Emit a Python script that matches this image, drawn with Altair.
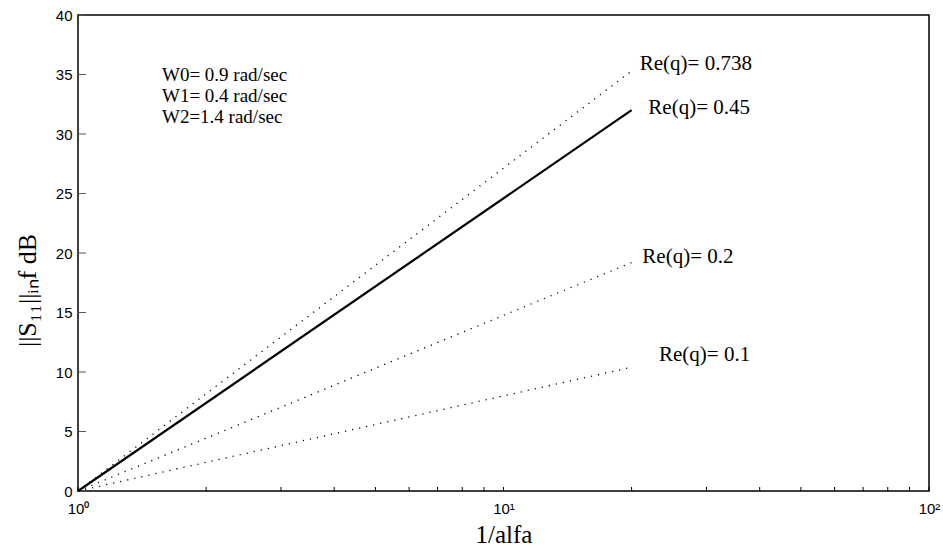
import altair as alt
import pandas as pd

# Re(q) curves: each runs from 1/alfa = 1 (0 dB) to 1/alfa = 20
re_q = ["0.738", "0.45", "0.2", "0.1"]
x_start = [1, 1, 1, 1]
x_end = [20, 20, 20, 20]
y_start = [0, 0, 0, 0]
y_end = [35.3, 32.0, 19.2, 10.4]
solid = [False, True, False, False]

# curve labels (data coordinates of the left edge of each label)
label_x = [20.9, 21.9, 21.2, 23.2]
label_y = [35.9, 32.2, 19.7, 11.4]

# frequency notes
notes = ["W0= 0.9 rad/sec", "W1= 0.4 rad/sec", "W2=1.4 rad/sec"]
notes_x = [1.575, 1.575, 1.575]
notes_y = [35.0, 33.2, 31.4]

# axis ticks
x_ticks = [1, 2, 3, 4, 5, 6, 7, 8, 9, 10, 20, 30, 40, 50, 60, 70, 80, 90, 100]
x_labels = [1, 10, 100]
y_ticks = [0, 5, 10, 15, 20, 25, 30, 35, 40]

W, H = 851, 476

rows = []
for i, q in enumerate(re_q):
    rows.append({"q": q, "x": x_start[i], "y": y_start[i], "solid": solid[i], "order": 0})
    rows.append({"q": q, "x": x_end[i], "y": y_end[i], "solid": solid[i], "order": 1})
lines = pd.DataFrame(rows)

labels = pd.DataFrame({"text": ["Re(q)= " + q for q in re_q], "x": label_x, "y": label_y})
notes_df = pd.DataFrame({"text": notes, "x": notes_x, "y": notes_y})

xs = alt.Scale(type="log", domain=[1, 100], nice=False)
ys = alt.Scale(domain=[0, 40], nice=False)

x_axis = alt.Axis(
    values=x_labels,
    labelExpr="datum.value == 1 ? '10⁰' : (datum.value == 10 ? '10¹' : '10²')",
    ticks=False, domain=False, grid=False,
    labelFont="Liberation Sans", labelFontSize=15, labelColor="black",
    labelPadding=10, labelFlush=False,
    title="1/alfa", titleFont="Liberation Serif", titleFontSize=25,
    titleFontWeight="normal", titleColor="black", titlePadding=6,
)
y_axis = alt.Axis(
    values=y_ticks, ticks=False, domain=False, grid=False,
    labelFont="Liberation Sans", labelFontSize=15, labelColor="black",
    labelPadding=6,
    title="||S₁₁||ᵢₙf  dB", titleFont="Liberation Serif", titleFontSize=26,
    titleFontWeight="normal", titleColor="black",
    titleAngle=270, titleX=-38, titleY=275,
)

base_lines = alt.Chart(lines).encode(
    x=alt.X("x:Q", scale=xs, axis=x_axis),
    y=alt.Y("y:Q", scale=ys, axis=y_axis),
    detail="q:N",
    order="order:Q",
)
dotted = base_lines.transform_filter("!datum.solid").mark_line(
    color="black", strokeWidth=1.3, strokeDash=[1.2, 6]
)
solid_line = base_lines.transform_filter("datum.solid").mark_line(
    color="black", strokeWidth=2.2
)

label_layer = alt.Chart(labels).mark_text(
    align="left", baseline="middle", font="Liberation Serif", fontSize=21, color="black"
).encode(x=alt.X("x:Q", scale=xs), y=alt.Y("y:Q", scale=ys), text="text:N")

notes_layer = alt.Chart(notes_df).mark_text(
    align="left", baseline="middle", font="Liberation Serif", fontSize=19, color="black"
).encode(x=alt.X("x:Q", scale=xs), y=alt.Y("y:Q", scale=ys), text="text:N")

# inward tick marks on the bottom and left edges
xt = pd.DataFrame({"x": x_ticks})
yt = pd.DataFrame({"y": y_ticks})
x_tick_layer = alt.Chart(xt).mark_rule(color="black", strokeWidth=1).encode(
    x=alt.X("x:Q", scale=xs), y=alt.value(H), y2=alt.value(H - 4)
)
y_tick_layer = alt.Chart(yt).mark_rule(color="#555555", strokeWidth=1).encode(
    y=alt.Y("y:Q", scale=ys), x=alt.value(0), x2=alt.value(8)
)

chart = alt.layer(
    x_tick_layer, y_tick_layer, dotted, solid_line, label_layer, notes_layer
).properties(
    width=W, height=H,
    autosize=alt.AutoSizeParams(type="none"),
    padding={"left": 78, "top": 15, "right": 14, "bottom": 59},
    background="white",
).configure_view(
    stroke="black", strokeWidth=1.5
)

chart.save("out.html", embed_options={"renderer": "svg", "actions": False})
